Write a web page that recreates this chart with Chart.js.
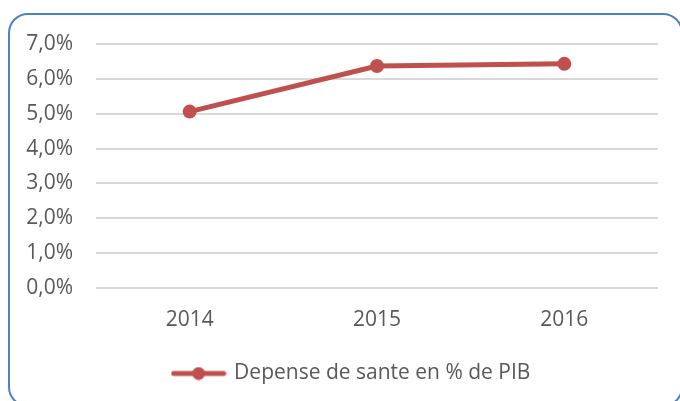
<!DOCTYPE html>
<html>
<head>
<meta charset="utf-8">
<script src="https://cdn.jsdelivr.net/npm/chart.js@4.4.1/dist/chart.umd.min.js"></script>
<style>
  html, body { margin: 0; padding: 0; background: #fff; overflow: hidden; }
  #wrap { position: relative; width: 680px; height: 401px; }
  #frame {
    position: absolute; left: 8px; top: 13px; width: 675px; height: 394px;
    box-sizing: border-box; border: 2px solid #4f81bd; border-radius: 20px;
    pointer-events: none;
  }
</style>
</head>
<body>
<div id="wrap">
  <canvas id="chart" width="680" height="401"></canvas>
  <div id="frame"></div>
</div>
<script>
// data
const years = ["2014", "2015", "2016"];
const healthSpend = [5.06, 6.37, 6.43]; // % of GDP
const seriesName = "Depense de sante en % de PIB";

const RED = "#c0504d";
const TEXT = "#595959";
const FONT = "'Open Sans', sans-serif";
const SIZE = 21;

// legend marker: short line with a dot in the middle
const marker = document.createElement("canvas");
marker.width = 56;
marker.height = 14;
(function () {
  const c = marker.getContext("2d");
  c.strokeStyle = RED;
  c.lineWidth = 5;
  c.lineCap = "round";
  c.beginPath();
  c.moveTo(3, 7);
  c.lineTo(53, 7);
  c.stroke();
  c.fillStyle = RED;
  c.beginPath();
  c.arc(28, 7, 6.5, 0, Math.PI * 2);
  c.fill();
})();

// legend is centred under the plot area, not the whole canvas
const shiftLegend = {
  id: "shiftLegend",
  afterLayout(chart) {
    chart.legend.left += 46;
  },
};

const ctx = document.getElementById("chart").getContext("2d");
new Chart(ctx, {
  type: "line",
  data: {
    labels: years,
    datasets: [
      {
        label: seriesName,
        data: healthSpend,
        borderColor: RED,
        backgroundColor: RED,
        borderWidth: 5,
        pointRadius: 7,
        pointHoverRadius: 7,
        pointBorderWidth: 0,
        pointBackgroundColor: RED,
        pointStyle: "circle",
        tension: 0,
        fill: false,
      },
    ],
  },
  plugins: [shiftLegend],
  options: {
    responsive: false,
    animation: false,
    layout: { padding: { top: 44, right: 22, bottom: 7, left: 0 } },
    plugins: {
      tooltip: { enabled: false },
      legend: {
        position: "bottom",
        labels: {
          color: TEXT,
          font: { family: FONT, size: SIZE },
          usePointStyle: true,
          pointStyleWidth: 50,
          boxHeight: 14,
          padding: 10,
          generateLabels: (chart) => [
            {
              text: seriesName,
              pointStyle: marker,
              fontColor: TEXT,
              lineWidth: 0,
              datasetIndex: 0,
            },
          ],
        },
      },
    },
    scales: {
      x: {
        offset: true,
        grid: { display: false, drawTicks: false },
        border: { display: false },
        ticks: { color: TEXT, font: { family: FONT, size: SIZE }, padding: 19 },
        afterFit: (s) => { s.height = 65; },
      },
      y: {
        min: 0,
        max: 7,
        grid: { color: "#d9d9d9", lineWidth: 2, drawTicks: false },
        border: { display: false },
        ticks: {
          stepSize: 1,
          color: TEXT,
          font: { family: FONT, size: SIZE },
          padding: 23,
          callback: (v) => v.toFixed(1).replace(".", ",") + "%",
        },
        afterFit: (s) => { s.width = 96; },
      },
    },
  },
});
</script>
</body>
</html>
